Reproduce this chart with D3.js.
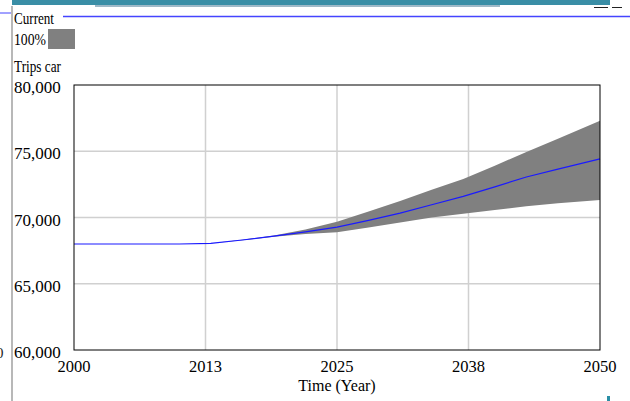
<!DOCTYPE html>
<html>
<head>
<meta charset="utf-8">
<script src="https://cdn.jsdelivr.net/npm/d3@7"></script>
<style>
  body { margin: 0; background: #fff; }
  svg { display: block; font-family: "Liberation Serif", "Times New Roman", serif; }
</style>
</head>
<body>
<svg id="chart" width="630" height="401"></svg>
<script>
// data
var years     = [2000, 2010, 2013, 2016, 2019, 2022, 2025, 2028, 2031, 2034, 2037, 2040, 2043, 2046, 2050];
var current   = [68000, 68000, 68050, 68300, 68600, 68920, 69280, 69780, 70330, 70960, 71590, 72310, 73060, 73650, 74430];
var bandUpper = [68000, 68000, 68050, 68320, 68650, 69100, 69680, 70450, 71250, 72100, 72900, 73900, 74950, 75950, 77300];
var bandLower = [68000, 68000, 68050, 68280, 68550, 68750, 68880, 69250, 69620, 70000, 70280, 70560, 70840, 71070, 71330];
var xTicks = [2000, 2012.5, 2025, 2037.5, 2050];
var xTickLabels = ["2000", "2013", "2025", "2038", "2050"];
var yTicks = [60000, 65000, 70000, 75000, 80000];

var margin = {top: 85, right: 30, bottom: 51, left: 74},
  width = 630 - margin.left - margin.right,
  height = 401 - margin.top - margin.bottom;

var svg = d3.select("#chart");

// window chrome bits around the pane
svg.append("rect").attr("x", 12).attr("y", 0).attr("width", 598).attr("height", 5).attr("fill", "#3a8ea6");
svg.append("rect").attr("x", 95).attr("y", 5).attr("width", 405).attr("height", 2).attr("fill", "#9fb9c8");
svg.append("line").attr("x1", 594).attr("x2", 608).attr("y1", 7.5).attr("y2", 7.5).attr("stroke", "#222");
svg.append("line").attr("x1", 612).attr("x2", 622).attr("y1", 7.5).attr("y2", 7.5).attr("stroke", "#222");
svg.append("line").attr("x1", 0).attr("x2", 11).attr("y1", 13).attr("y2", 13).attr("stroke", "#4444ff");
svg.append("line").attr("x1", 63).attr("x2", 630).attr("y1", 16.5).attr("y2", 16.5).attr("stroke", "#4444ff").attr("stroke-width", 1.5);
svg.append("line").attr("x1", 12).attr("x2", 12).attr("y1", 6).attr("y2", 401).attr("stroke", "#b8b8b8").attr("stroke-width", 2);
svg.append("rect").attr("x", 607).attr("y", 396).attr("width", 3).attr("height", 5).attr("fill", "#2a8fa6");
svg.append("text").attr("x", -4).attr("y", 358).attr("font-size", 15).attr("fill", "#222").text("0");

// legend (text squeezed a little, like the original)
function legendText(txt, yy, len) {
  svg.append("text").attr("x", 14).attr("y", yy).attr("font-size", 16)
    .attr("textLength", len).attr("lengthAdjust", "spacingAndGlyphs").text(txt);
}
legendText("Current", 24, 40);
legendText("100%", 45, 32);
legendText("Trips car", 72, 47);
svg.append("rect").attr("x", 48).attr("y", 29).attr("width", 27).attr("height", 20).attr("fill", "#808080");

var g = svg.append("g")
  .attr("transform", "translate(" + margin.left + "," + margin.top + ")");

var x = d3.scaleLinear().domain([2000, 2050]).range([0, width]);
var y = d3.scaleLinear().domain([60000, 80000]).range([height, 0]);

// grid
g.selectAll(".vgrid").data(xTicks.slice(1, -1)).enter().append("line")
  .attr("x1", d => x(d)).attr("x2", d => x(d))
  .attr("y1", 0).attr("y2", height)
  .attr("stroke", "#d0d0d0").attr("stroke-width", 1.5);
g.selectAll(".hgrid").data(yTicks.slice(1, -1)).enter().append("line")
  .attr("x1", 0).attr("x2", width)
  .attr("y1", d => y(d)).attr("y2", d => y(d))
  .attr("stroke", "#d0d0d0").attr("stroke-width", 1.5);

// confidence band
var rows = years.map((yr, i) => ({yr: yr, lo: bandLower[i], hi: bandUpper[i], v: current[i]}));
g.append("path")
  .datum(rows)
  .attr("fill", "#808080")
  .attr("d", d3.area().x(d => x(d.yr)).y0(d => y(d.lo)).y1(d => y(d.hi)));

// current run
g.append("path")
  .datum(rows)
  .attr("fill", "none")
  .attr("stroke", "#1a1aff")
  .attr("stroke-width", 1.2)
  .attr("d", d3.line().x(d => x(d.yr)).y(d => y(d.v)));

// frame
g.append("rect").attr("x", 0).attr("y", 0).attr("width", width).attr("height", height)
  .attr("fill", "none").attr("stroke", "#000").attr("stroke-width", 1);

// axes labels
svg.selectAll(".ylab").data(yTicks).enter().append("text")
  .attr("x", 14)
  .attr("y", d => margin.top + y(d) + 8)
  .attr("font-size", 17)
  .text(d => d3.format(",")(d));

svg.selectAll(".xlab").data(xTicks).enter().append("text")
  .attr("x", (d, i) => margin.left + x(d))
  .attr("y", 372)
  .attr("font-size", 16.5)
  .attr("text-anchor", "middle")
  .text((d, i) => xTickLabels[i]);

svg.append("text")
  .attr("x", margin.left + width / 2)
  .attr("y", 391)
  .attr("font-size", 16)
  .attr("text-anchor", "middle")
  .text("Time (Year)");
</script>
</body>
</html>
